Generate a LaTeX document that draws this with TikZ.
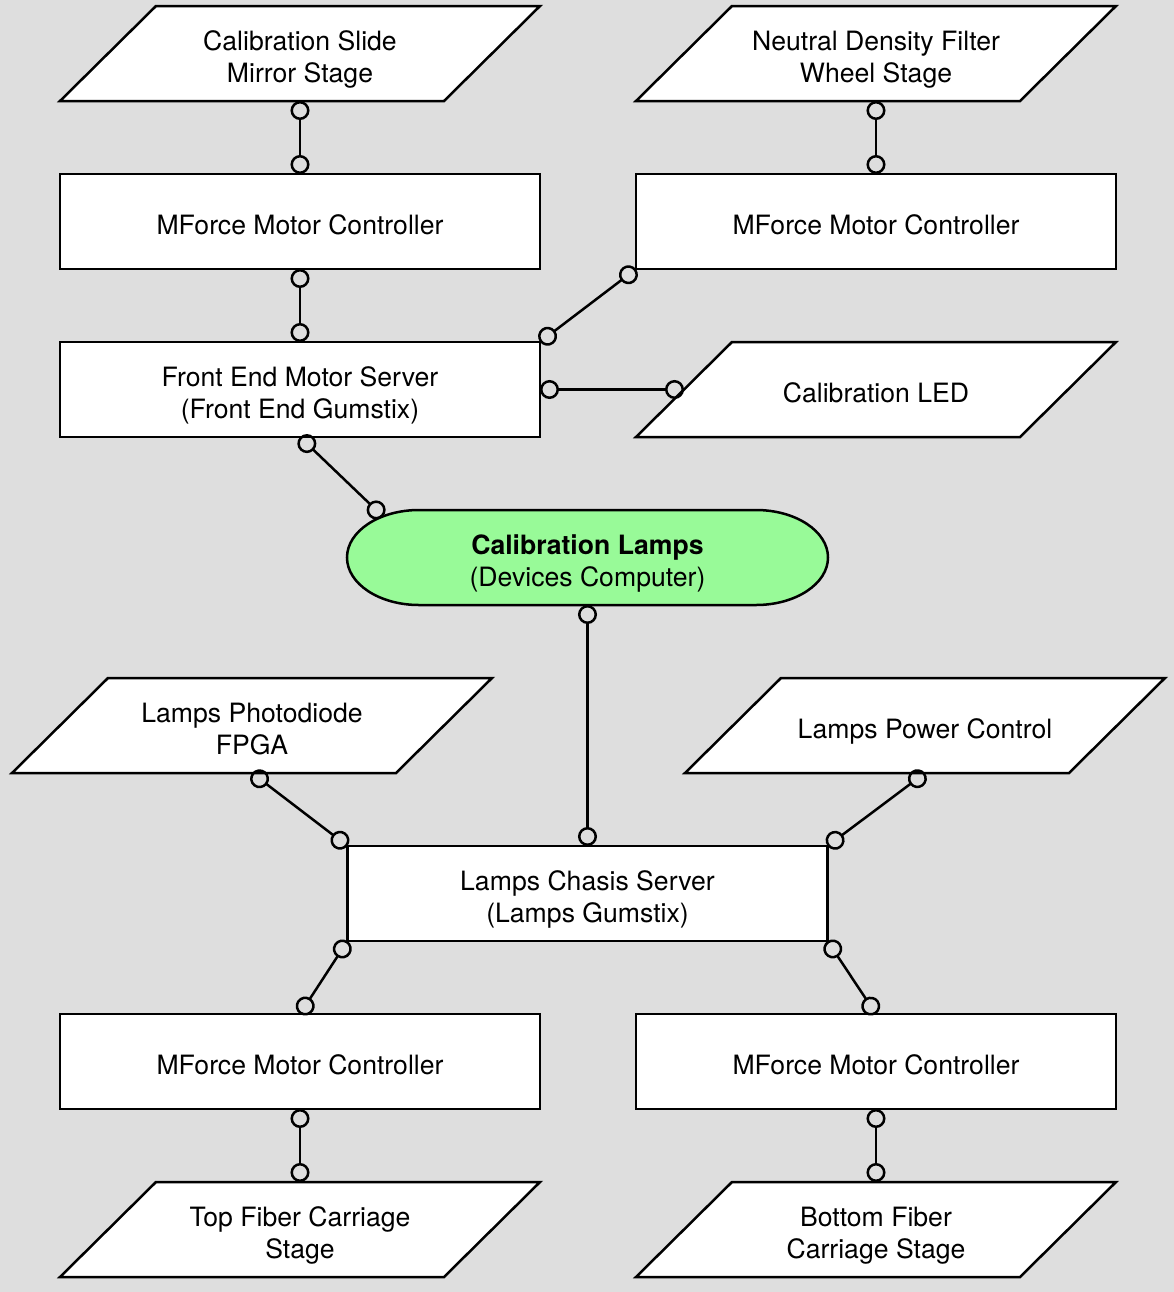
\documentclass[tikz,border=0pt]{standalone}
\usepackage{fontspec}
\setmainfont{TeX Gyre Heros}
\usetikzlibrary{arrows.meta,calc}
\definecolor{bg}{HTML}{DEDEDE}
\definecolor{lampgreen}{HTML}{98FA98}
\tikzset{
  lbl/.style={font=\fontsize{13.3}{16}\selectfont, align=center, inner sep=0pt, outer sep=0pt},
  box/.style={lbl, draw, fill=white, line width=1.25pt, minimum width=240pt, minimum height=47.5pt},
  paratext/.style={lbl, minimum width=192pt, minimum height=47.5pt},
  stadtext/.style={lbl, minimum width=240.5pt, minimum height=47.5pt},
  parashape/.style={draw, fill=white, line width=1.25pt, line join=miter},
  stadshape/.style={draw, fill=lampgreen, line width=1.25pt},
  conn/.style={line width=1.25pt, {Circle[open,length=9.5pt]}-{Circle[open,length=9.5pt]}},
}
\newcommand\onel[1]{\rule[-4pt]{0pt}{20.8pt}#1}
\newcommand\twol[2]{\rule{0pt}{17.1pt}#1\\#2\rule[-4pt]{0pt}{4pt}}
\newcommand\drawpara[2]{\filldraw[parashape] (#1-240,#2+47.5) -- (#1-144,#2-47.5) -- (#1+240,#2-47.5) -- (#1+144,#2+47.5) -- cycle;}
\begin{document}
\begin{tikzpicture}[x=0.5pt,y=-0.5pt]
\fill[bg] (0,0) rectangle (1174,1292);
\useasboundingbox (0,0) rectangle (1174,1292);
% parallelograms
\drawpara{300}{53.5}
\node[paratext] (p1) at (300,53.5) {\twol{Calibration Slide}{Mirror Stage}};
\drawpara{876}{53.5}
\node[paratext] (p2) at (876,53.5) {\twol{Neutral Density Filter}{Wheel Stage}};
\drawpara{876}{389.5}
\node[paratext] (led) at (876,389.5) {\onel{Calibration LED}};
\drawpara{252}{725.5}
\node[paratext] (pd) at (252,725.5) {\twol{Lamps Photodiode}{FPGA}};
\drawpara{925}{725.5}
\node[paratext] (pc) at (925,725.5) {\onel{Lamps Power Control}};
\drawpara{300}{1229.5}
\node[paratext] (p3) at (300,1229.5) {\twol{Top Fiber Carriage}{Stage}};
\drawpara{876}{1229.5}
\node[paratext] (p4) at (876,1229.5) {\twol{Bottom Fiber}{Carriage Stage}};
% boxes
\node[box] (mf1) at (300,221.5) {\onel{MForce Motor Controller}};
\node[box] (mf2) at (876,221.5) {\onel{MForce Motor Controller}};
\node[box] (fems) at (300,389.5) {\twol{Front End Motor Server}{(Front End Gumstix)}};
\node[box] (lcs) at (587.5,893.5) {\twol{Lamps Chasis Server}{(Lamps Gumstix)}};
\node[box] (mf3) at (300,1061.5) {\onel{MForce Motor Controller}};
\node[box] (mf4) at (876,1061.5) {\onel{MForce Motor Controller}};
% stadium
\filldraw[stadshape] (419,510) -- (756,510) arc[start angle=90,end angle=-90,x radius=36pt,y radius=23.75pt] -- (419,605) arc[start angle=270,end angle=90,x radius=36pt,y radius=23.75pt] -- cycle;
\node[stadtext] (stad) at (587.5,557.5) {\twol{\textbf{Calibration Lamps}}{(Devices Computer)}};
\coordinate (stadA) at ($(stad.north west)+(36,6.5)$);
% connectors
\draw[conn] (p1.south) -- (mf1.north);
\draw[conn] (p2.south) -- (mf2.north);
\draw[conn] (mf1.south) -- (fems.north);
\draw[conn] (fems.north east) -- (mf2.south west);
\draw[conn] (fems.east) -- (led.west);
\draw[conn] (fems.south) -- (stadA);
\draw[conn] (stad.south) -- (lcs.north);
\draw[conn] (pd.south) -- (lcs.north west);
\draw[conn] (pc.south) -- (lcs.north east);
\draw[conn] (lcs.south west) -- (mf3.north);
\draw[conn] (lcs.south east) -- (mf4.north);
\draw[conn] (mf3.south) -- (p3.north);
\draw[conn] (mf4.south) -- (p4.north);
\end{tikzpicture}
\end{document}
